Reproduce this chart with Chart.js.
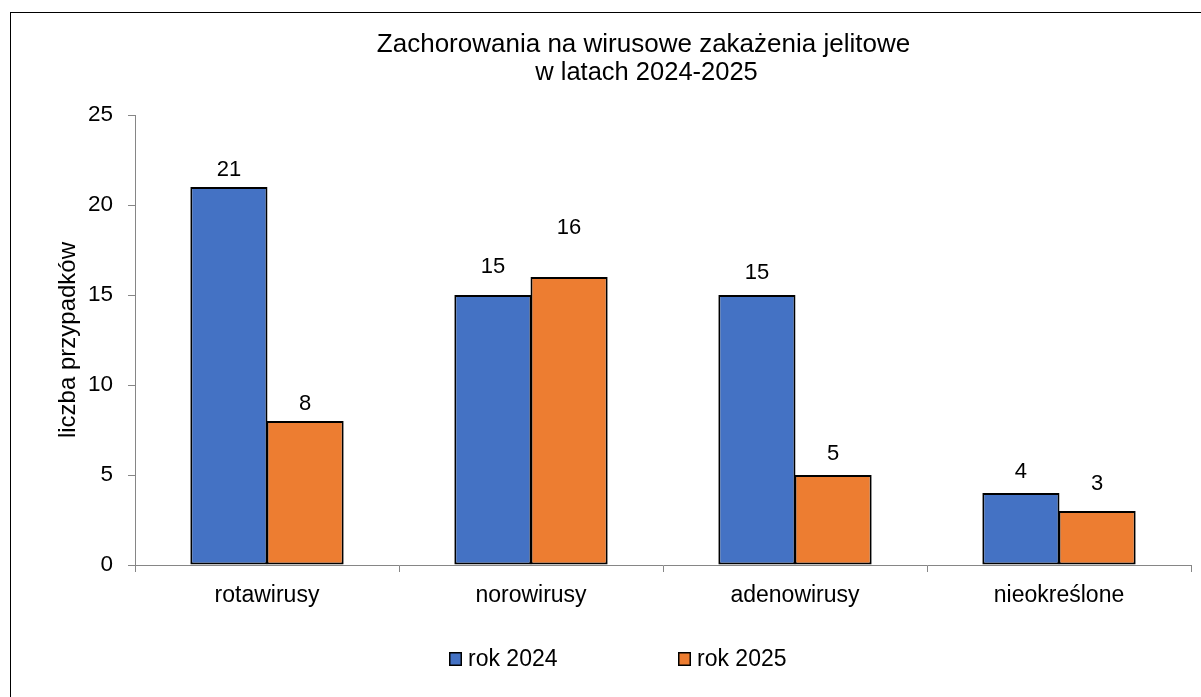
<!DOCTYPE html>
<html>
<head>
<meta charset="utf-8">
<script src="https://cdn.jsdelivr.net/npm/chart.js@4/dist/chart.umd.min.js"></script>
<style>
  html, body { margin: 0; padding: 0; background: #ffffff; }
  #wrap { width: 1201px; height: 697px; position: relative; }
  canvas { display: block; }
</style>
</head>
<body>
<div id="wrap"><canvas id="c" width="1201" height="697"></canvas></div>
<script>
// ---- data ----
const titleLines = ["Zachorowania na wirusowe zakażenia jelitowe", "w latach 2024-2025"];
const categories = ["rotawirusy", "norowirusy", "adenowirusy", "nieokreślone"];
const seriesLabels = ["rok 2024", "rok 2025"];
const values2024 = [21, 15, 15, 4];
const values2025 = [8, 16, 5, 3];
const yAxisTitle = "liczba przypadków";

// ---- style ----
const FONT = "'Liberation Sans', Arial, sans-serif";
const colors = ["#4472C4", "#ED7D31"];
const axisGray = "#868686";
// vertical gap between bar top and label baseline (as placed in the original)
const labelGaps = [[11, 22, 16, 15], [11, 43, 15, 21]];

const overlayPlugin = {
  id: 'overlay',
  afterDatasetsDraw(chart) {
    const ctx = chart.ctx;
    ctx.save();
    ctx.fillStyle = '#000';
    ctx.font = "22px " + FONT;
    ctx.textAlign = 'center';
    ctx.textBaseline = 'alphabetic';
    chart.data.datasets.forEach((ds, di) => {
      const meta = chart.getDatasetMeta(di);
      meta.data.forEach((bar, i) => {
        ctx.fillText(String(ds.data[i]), bar.x, bar.y - labelGaps[di][i]);
      });
    });
    ctx.restore();
  },
  afterDraw(chart) {
    const ctx = chart.ctx;
    ctx.save();
    // outer frame
    ctx.strokeStyle = '#000';
    ctx.lineWidth = 1;
    ctx.strokeRect(10.5, 12.5, 1400, 1000);
    // title
    ctx.fillStyle = '#000';
    ctx.textAlign = 'center';
    ctx.textBaseline = 'alphabetic';
    ctx.font = "26px " + FONT;
    ctx.fillText(titleLines[0], 643.5, 52);
    ctx.font = "25.5px " + FONT;
    ctx.fillText(titleLines[1], 646.5, 80);
    // legend
    ctx.font = "23px " + FONT;
    ctx.textAlign = 'left';
    const legendX = [449, 678];
    chart.data.datasets.forEach((ds, di) => {
      const x = legendX[di];
      ctx.fillStyle = ds.backgroundColor;
      ctx.fillRect(x, 652, 13, 14);
      ctx.strokeStyle = '#000';
      ctx.lineWidth = 1.5;
      ctx.strokeRect(x + 0.75, 652.75, 11.5, 12.5);
      ctx.fillStyle = '#000';
      ctx.fillText(ds.label, x + 19, 666);
    });
    ctx.restore();
  }
};

new Chart(document.getElementById('c'), {
  type: 'bar',
  data: {
    labels: categories,
    datasets: [
      { label: seriesLabels[0], data: values2024, backgroundColor: colors[0] },
      { label: seriesLabels[1], data: values2025, backgroundColor: colors[1] }
    ]
  },
  options: {
    responsive: false,
    animation: false,
    devicePixelRatio: 1,
    layout: { padding: { left: 0, top: 115, right: 10, bottom: 72 } },
    datasets: {
      bar: {
        borderColor: '#000',
        borderWidth: 2,
        borderSkipped: false,
        categoryPercentage: 0.577,
        barPercentage: 1.013
      }
    },
    plugins: {
      legend: { display: false },
      title: { display: false },
      tooltip: { enabled: false }
    },
    scales: {
      x: {
        afterFit: (s) => { s.height = 60; },
        grid: { offset: true, drawOnChartArea: false, drawTicks: true, tickLength: 7, color: axisGray },
        border: { display: true, color: axisGray, width: 1 },
        ticks: { color: '#000', font: { family: FONT, size: 23 }, padding: 10, maxRotation: 0 }
      },
      y: {
        min: 0, max: 25,
        afterFit: (s) => { s.width = 135; },
        grid: { drawOnChartArea: false, drawTicks: true, tickLength: 7, color: axisGray },
        border: { display: true, color: axisGray, width: 1 },
        ticks: { stepSize: 5, color: '#000', font: { family: FONT, size: 22.5 }, padding: 15 },
        title: { display: true, text: yAxisTitle, color: '#000', font: { family: FONT, size: 24 }, padding: { top: 53.6, bottom: 0 } }
      }
    }
  },
  plugins: [overlayPlugin]
});
</script>
</body>
</html>
